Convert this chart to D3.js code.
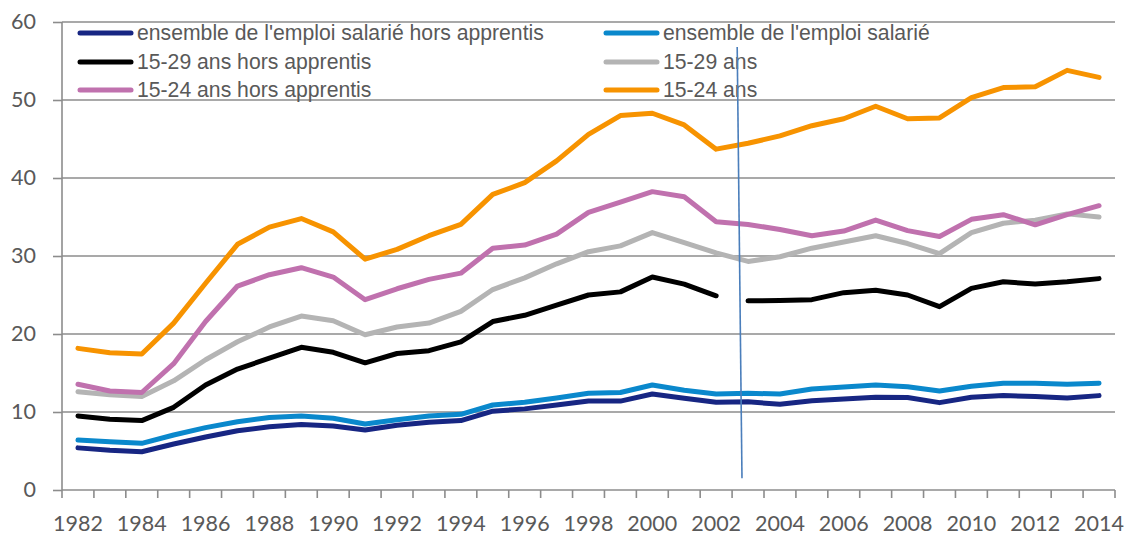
<!DOCTYPE html>
<html>
<head>
<meta charset="utf-8">
<script src="https://cdn.jsdelivr.net/npm/d3@7"></script>
<style>
	body { margin: 0; background: #ffffff; }
	svg text { fill: #595959; }
	.axis-label { font-family: Lato, "Open Sans", sans-serif; font-size: 21.5px; }
	.legend-label { font-family: "Liberation Sans", Arial, sans-serif; font-size: 21.2px; }
</style>
</head>
<body>
<div id="chart"></div>
<script>
// years on the category axis
const years = d3.range(1982, 2015);
const yTicks = [0, 10, 20, 30, 40, 50, 60];

// series values, 1982 -> 2014
const emploiHorsApprentis = [5.4, 5.1, 4.9, 5.9, 6.8, 7.6, 8.1, 8.4, 8.2, 7.7, 8.3,
	8.7, 8.9, 10.1, 10.4, 10.9, 11.4, 11.4, 12.3, 11.75, 11.24, 11.3,
	11.0, 11.45, 11.67, 11.9, 11.85, 11.2, 11.9, 12.1, 12.0, 11.8, 12.1];
const emploiSalarie = [6.4, 6.2, 5.98, 7.05, 8.0, 8.76, 9.3, 9.5, 9.2, 8.46, 9.0,
	9.5, 9.7, 10.9, 11.24, 11.8, 12.4, 12.5, 13.46, 12.8, 12.3, 12.4,
	12.3, 12.95, 13.2, 13.46, 13.25, 12.7, 13.3, 13.7, 13.7, 13.55, 13.7];
const ans1529HorsApprentis = [9.5, 9.06, 8.9, 10.6, 13.46, 15.5, 16.9, 18.3, 17.65, 16.3, 17.5,
	17.86, 19.0, 21.6, 22.4, 23.7, 25.0, 25.4, 27.3, 26.4, 24.9, 24.25,
	24.3, 24.4, 25.3, 25.6, 25.0, 23.5, 25.85, 26.7, 26.4, 26.7, 27.1];
const ans1529 = [12.6, 12.2, 12.0, 14.0, 16.7, 19.0, 20.9, 22.3, 21.7, 19.9, 20.9,
	21.4, 22.9, 25.7, 27.2, 29.0, 30.55, 31.3, 33.0, 31.7, 30.4, 29.3,
	29.9, 31.0, 31.8, 32.6, 31.6, 30.3, 33.0, 34.2, 34.6, 35.4, 35.0];
const ans1524HorsApprentis = [13.55, 12.7, 12.5, 16.2, 21.6, 26.15, 27.6, 28.5, 27.3, 24.4, 25.8,
	27.0, 27.8, 31.0, 31.4, 32.8, 35.6, 36.9, 38.25, 37.6, 34.4, 34.05,
	33.4, 32.6, 33.2, 34.6, 33.25, 32.5, 34.7, 35.3, 34.0, 35.3, 36.45];
const ans1524 = [18.16, 17.6, 17.44, 21.4, 26.5, 31.5, 33.7, 34.8, 33.1, 29.6, 30.85,
	32.6, 34.06, 37.9, 39.4, 42.2, 45.6, 48.0, 48.3, 46.8, 43.7, 44.45,
	45.4, 46.7, 47.6, 49.2, 47.6, 47.7, 50.3, 51.6, 51.7, 53.8, 52.9];

// the 15-29 hors apprentis series breaks between these two years
const breakAfterYear = 2002;

// hand drawn vertical marker, in [year, value] units
const markerLine = [[2002.66, 56.8], [2002.81, 1.5]];

const seriesNames = [
	"ensemble de l'emploi salarié hors apprentis",
	"ensemble de l'emploi salarié",
	"15-29 ans hors apprentis",
	"15-29 ans",
	"15-24 ans hors apprentis",
	"15-24 ans"
];
const seriesValues = [emploiHorsApprentis, emploiSalarie, ans1529HorsApprentis, ans1529, ans1524HorsApprentis, ans1524];
const seriesColors = ['#172683', '#0a88cc', '#000000', '#b4b4b4', '#c071ae', '#f79300'];

const width = 1128, height = 536;
const m = { top: 22, right: 13, bottom: 46, left: 62 };

const svg = d3.select('#chart').append('svg')
	.attr('width', width)
	.attr('height', height);

const xScale = d3.scaleBand()
	.domain(years)
	.range([m.left, width - m.right])
	.padding(0);
const bw = xScale.bandwidth();
const xCenter = d => xScale(d) + bw / 2;

// continuous version of the category axis, for the marker
const xLin = d3.scaleLinear()
	.domain([years[0], years[years.length - 1]])
	.range([xCenter(years[0]), xCenter(years[years.length - 1])]);

const yScale = d3.scaleLinear()
	.domain([0, 60])
	.range([height - m.bottom, m.top]);

//gridlines + y axis
const yAxis = svg.append('g')
	.attr('transform', 'translate(' + m.left + ',0)')
	.call(d3.axisLeft(yScale)
		.tickValues(yTicks)
		.tickSize(9)
		.tickPadding(17)
		.tickFormat(d3.format('d')));
yAxis.select('.domain').remove();
yAxis.selectAll('.tick line').attr('stroke', '#8c8c8c').attr('stroke-width', 1.6);
yAxis.selectAll('.tick text').attr('class', 'axis-label');

svg.append('g')
	.attr('class', 'grid')
	.selectAll('line')
	.data(yTicks)
	.join('line')
		.attr('x1', m.left)
		.attr('x2', width - m.right)
		.attr('y1', d => yScale(d))
		.attr('y2', d => yScale(d))
		.attr('stroke', '#8c8c8c')
		.attr('stroke-width', 1.6);

// vertical axis line
svg.append('line')
	.attr('x1', m.left).attr('x2', m.left)
	.attr('y1', yScale(60)).attr('y2', yScale(0))
	.attr('stroke', '#8c8c8c')
	.attr('stroke-width', 1.6);

//x axis: ticks on category boundaries, labels every other year
const xAxis = svg.append('g').attr('class', 'x axis');
xAxis.selectAll('line')
	.data(years.concat([null]))
	.join('line')
		.attr('x1', (d, i) => m.left + i * bw)
		.attr('x2', (d, i) => m.left + i * bw)
		.attr('y1', yScale(0))
		.attr('y2', yScale(0) + 8)
		.attr('stroke', '#8c8c8c')
		.attr('stroke-width', 1.6);
xAxis.selectAll('text')
	.data(years.filter(d => (d - years[0]) % 2 === 0))
	.join('text')
		.attr('class', 'axis-label')
		.attr('x', d => xCenter(d))
		.attr('y', yScale(0) + 41)
		.attr('text-anchor', 'middle')
		.text(d => d);

//lines
const valueLine = d3.line()
	.x(d => xCenter(d.year))
	.y(d => yScale(d.value));

const plot = svg.append('g').attr('class', 'lines');
seriesValues.forEach(function(values, s) {
	const pts = years.map((y, i) => ({ year: y, value: values[i] }));
	let segments = [pts];
	if (s === 2) {
		segments = [pts.filter(d => d.year <= breakAfterYear), pts.filter(d => d.year > breakAfterYear)];
	}
	segments.forEach(function(seg) {
		plot.append('path')
			.datum(seg)
			.attr('fill', 'none')
			.attr('stroke', seriesColors[s])
			.attr('stroke-width', 5)
			.attr('stroke-linejoin', 'round')
			.attr('stroke-linecap', 'round')
			.attr('d', valueLine);
	});
});

//legend, two columns
const legend = svg.append('g').attr('class', 'legend');
const legendCols = [78, 604];
const legendRows = [33, 62, 90];
seriesNames.forEach(function(name, i) {
	const lx = legendCols[i % 2];
	const ly = legendRows[Math.floor(i / 2)];
	legend.append('line')
		.attr('x1', lx + 2).attr('x2', lx + 53)
		.attr('y1', ly).attr('y2', ly)
		.attr('stroke', seriesColors[i])
		.attr('stroke-width', 5)
		.attr('stroke-linecap', 'round');
	legend.append('text')
		.attr('class', 'legend-label')
		.attr('x', lx + 59)
		.attr('y', ly)
		.attr('dy', '0.35em')
		.text(name);
});

// marker drawn on top
svg.append('line')
	.attr('x1', xLin(markerLine[0][0]))
	.attr('y1', yScale(markerLine[0][1]))
	.attr('x2', xLin(markerLine[1][0]))
	.attr('y2', yScale(markerLine[1][1]))
	.attr('stroke', '#4a7ebb')
	.attr('stroke-width', 1.6);
</script>
</body>
</html>
